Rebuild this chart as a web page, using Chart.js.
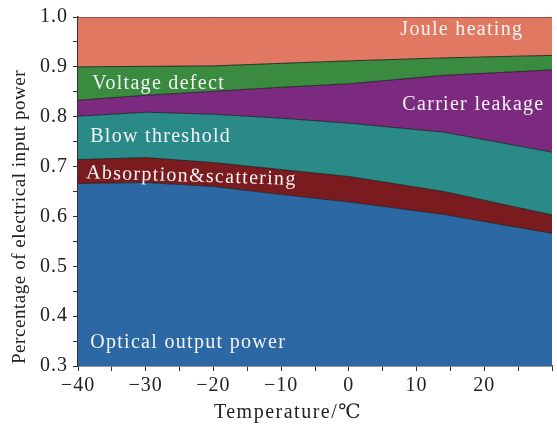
<html>

<head>
    <title>Power breakdown vs temperature</title>
    <meta charset="utf-8">
    <script src="https://cdn.jsdelivr.net/npm/chart.js@4.4.1/dist/chart.umd.min.js"></script>
    <style>
        body { margin: 0; background: #fff; }
        #wrap { width: 557px; height: 428px; }
    </style>
</head>

<body>
    <div id="wrap"><canvas id="chart"></canvas></div>

    <script>
        // temperatures (℃) where the stack was sampled
        const temperatures = [-40, -30, -20, -10, 0, 14, 30];

        // share of electrical input power, bottom of the stack first
        const opticalOutput = [0.666, 0.668, 0.660, 0.644, 0.629, 0.604, 0.566];
        const absorptionScattering = [0.048, 0.050, 0.048, 0.050, 0.051, 0.046, 0.037];
        const blowThreshold = [0.087, 0.091, 0.097, 0.103, 0.107, 0.119, 0.126];
        const carrierLeakage = [0.032, 0.034, 0.046, 0.062, 0.079, 0.114, 0.165];
        const voltageDefect = [0.067, 0.058, 0.051, 0.048, 0.046, 0.035, 0.029];
        const jouleHeating = [0.100, 0.099, 0.098, 0.093, 0.088, 0.082, 0.077];

        const seriesNames = ['Optical output power', 'Absorption&scattering', 'Blow threshold',
            'Carrier leakage', 'Voltage defect', 'Joule heating'];
        const seriesValues = [opticalOutput, absorptionScattering, blowThreshold,
            carrierLeakage, voltageDefect, jouleHeating];
        const seriesColors = ['#2c69a4', '#7a1c1f', '#2a8a87', '#7b2a7f', '#3a8a3f', '#e07862'];

        // where each name is written inside the plot (temperature, share, angle in degrees)
        const labelSpots = [
            { name: 'Optical output power', x: -38.2, y: 0.346, angle: 0 },
            { name: 'Absorption&scattering', x: -38.8, y: 0.687, angle: 1.8 },
            { name: 'Blow threshold', x: -38.2, y: 0.759, angle: 0 },
            { name: 'Carrier leakage', x: 7.9, y: 0.825, angle: 0 },
            { name: 'Voltage defect', x: -37.9, y: 0.867, angle: 0 },
            { name: 'Joule heating', x: 7.6, y: 0.974, angle: 0 },
        ];

        const xTitle = 'Temperature/\u2103';
        const yTitle = 'Percentage of electrical input power';

        const serif = "'Liberation Serif', 'DejaVu Serif', serif";
        const ink = '#333';

        function toPoints(values) {
            return values.map((v, i) => ({ x: temperatures[i], y: v }));
        }

        const datasets = seriesValues.map((values, i) => ({
            label: seriesNames[i],
            data: toPoints(values),
            backgroundColor: seriesColors[i],
            borderColor: 'rgba(30,30,30,0.85)',
            borderWidth: 1,
            pointRadius: 0,
            tension: 0,
            fill: i === 0 ? 'origin' : '-1',
        }));

        // wider letter spacing for the tick labels, closer to the TeX look
        const spacing = {
            id: 'spacing',
            beforeDraw(chart) {
                chart.ctx.letterSpacing = '1px';
            }
        };

        const areaLabels = {
            id: 'areaLabels',
            afterDatasetsDraw(chart) {
                const ctx = chart.ctx;
                const xs = chart.scales.x;
                const ys = chart.scales.y;
                ctx.save();
                ctx.font = '20px ' + serif;
                ctx.letterSpacing = '1.3px';
                ctx.fillStyle = '#f4f4f4';
                ctx.textAlign = 'left';
                ctx.textBaseline = 'middle';
                for (const spot of labelSpots) {
                    ctx.save();
                    ctx.translate(xs.getPixelForValue(spot.x), ys.getPixelForValue(spot.y));
                    ctx.rotate(spot.angle * Math.PI / 180);
                    ctx.fillText(spot.name, 0, 0);
                    ctx.restore();
                }
                ctx.restore();
            },
            afterDraw(chart) {
                const ctx = chart.ctx;
                const area = chart.chartArea;
                ctx.save();
                ctx.fillStyle = '#222';
                ctx.textBaseline = 'middle';
                ctx.textAlign = 'center';
                ctx.font = '20px ' + serif;
                ctx.letterSpacing = '1.5px';
                ctx.fillText(xTitle, area.left + 210, area.bottom + 47);
                // y title runs upward from just above the bottom of the plot
                ctx.textAlign = 'left';
                ctx.font = '19px ' + serif;
                ctx.letterSpacing = '0.55px';
                ctx.translate(20, area.bottom - 2);
                ctx.rotate(-Math.PI / 2);
                ctx.fillText(yTitle, 0, 0);
                ctx.restore();
            }
        };

        const isMajor = (v, step) => Math.abs(v / step - Math.round(v / step)) < 1e-6;

        new Chart(document.getElementById('chart'), {
            type: 'line',
            data: { datasets: datasets },
            options: {
                responsive: true,
                maintainAspectRatio: false,
                animation: false,
                layout: { padding: { top: 14, right: 5, left: 0, bottom: 0 } },
                plugins: {
                    legend: { display: false },
                    tooltip: { enabled: false },
                },
                scales: {
                    x: {
                        type: 'linear',
                        min: -40,
                        max: 30,
                        afterFit(scale) { scale.height = 62; },
                        border: { color: ink, width: 1.5 },
                        grid: { drawOnChartArea: false, tickLength: 5, color: ink },
                        ticks: {
                            stepSize: 5,
                            includeBounds: false,
                            autoSkip: false,
                            maxRotation: 0,
                            padding: 3,
                            color: '#222',
                            font: { family: serif, size: 20 },
                            callback: v => isMajor(v, 10) && v < 30 ? (v < 0 ? '\u2212' + Math.abs(v) : String(v)) : '',
                        },
                    },
                    y: {
                        stacked: true,
                        min: 0.3,
                        max: 1.0,
                        afterFit(scale) { scale.width = 78; },
                        border: { color: ink, width: 1.5 },
                        grid: { drawOnChartArea: false, tickLength: 5, color: ink },
                        ticks: {
                            stepSize: 0.05,
                            autoSkip: false,
                            padding: 5,
                            color: '#222',
                            font: { family: serif, size: 20 },
                            callback: v => isMajor(v, 0.1) ? v.toFixed(1) : '',
                        },
                    },
                },
            },
            plugins: [spacing, areaLabels],
        });
    </script>
</body>

</html>
